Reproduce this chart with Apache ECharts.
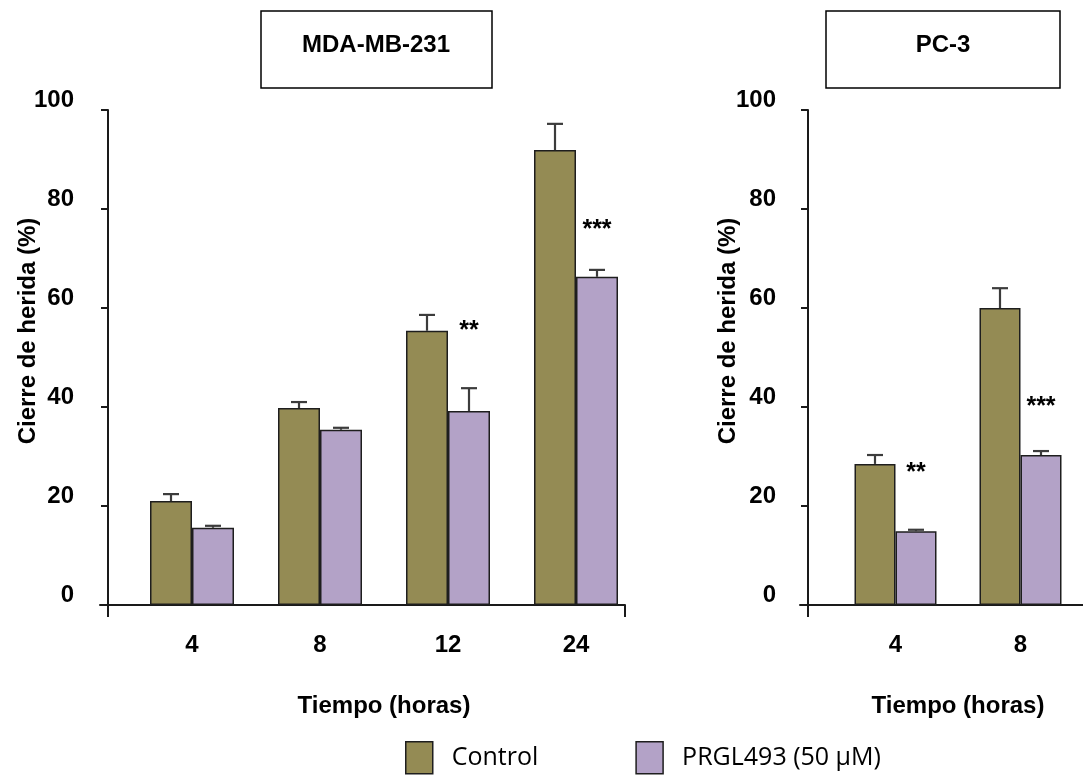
<!DOCTYPE html>
<html>
<head>
<meta charset="utf-8">
<script src="https://cdn.jsdelivr.net/npm/echarts@6/dist/echarts.min.js"></script>
<style>
html,body{margin:0;padding:0;background:#fff;}
#chart{width:1083px;height:776px;}
</style>
</head>
<body>
<div id="chart"></div>
<script>
// ---- Data ----
const seriesNames = ['Control', 'PRGL493 (50 µM)'];
const yTicks = [0, 20, 40, 60, 80, 100];

// MDA-MB-231
const categoriesA = ['4', '8', '12', '24'];
const controlA = [21.0, 39.8, 55.4, 91.9];
const controlErrA = [1.4, 1.2, 3.2, 5.3];
const prglA = [15.6, 35.4, 39.2, 66.3];
const prglErrA = [0.4, 0.4, 4.6, 1.4];
const sigA = ['', '', '**', '***'];
const sigYA = [null, null, 55.4, 75.8];

// PC-3
const categoriesB = ['4', '8'];
const controlB = [28.5, 60.0];
const controlErrB = [1.8, 4.0];
const prglB = [14.9, 30.3];
const prglErrB = [0.3, 0.8];
const sigB = ['**', '***'];
const sigYB = [26.6, 39.9];

// ---- Styles ----
const C_CONTROL = '#948B54';
const C_PRGL = '#B3A2C7';
const BORDER = '#1e1e1e';
const AXIS = '#1a1a1a';
const BAR_W = 42;
const FONT = 'Liberation Sans, Arial, sans-serif';
const FS = 24;

function errData(ctrl, ctrlErr, prgl, prglErr) {
  const d = [];
  for (let i = 0; i < ctrl.length; i++) {
    d.push([i, ctrl[i], ctrlErr[i], 0]);
    d.push([i, prgl[i], prglErr[i], 1]);
  }
  return d;
}
function sigData(sigY) {
  const d = [];
  sigY.forEach((y, i) => { if (y != null) d.push([i, y]); });
  return d;
}

function errRender(barW) {
  return function (params, api) {
    const cat = api.value(0), v = api.value(1), e = api.value(2), s = api.value(3);
    const base = api.coord([cat, v]);
    const top = api.coord([cat, v + e]);
    const x = base[0] + (s === 0 ? -1 : 1) * barW / 2;
    const st = { stroke: '#3c3c3c', lineWidth: 2.2 };
    return {
      type: 'group',
      children: [
        { type: 'line', shape: { x1: x, y1: base[1], x2: x, y2: top[1] }, style: st },
        { type: 'line', shape: { x1: x - 8, y1: top[1], x2: x + 8, y2: top[1] }, style: st }
      ]
    };
  };
}
function sigRender(barW, labels, sigY) {
  const idx = [];
  sigY.forEach((y, i) => { if (y != null) idx.push(i); });
  return function (params, api) {
    const cat = api.value(0), v = api.value(1);
    const p = api.coord([cat, v]);
    return {
      type: 'text',
      x: p[0] + barW / 2,
      y: p[1],
      style: {
        text: labels[idx[params.dataIndex]],
        align: 'center',
        verticalAlign: 'middle',
        font: 'bold 25px ' + FONT,
        fill: '#000'
      }
    };
  };
}

function yAxisCfg(gridIndex, offset, margin) {
  return {
    type: 'value', gridIndex: gridIndex, min: 0, max: 100, interval: 20, offset: offset,
    axisLine: { show: true, lineStyle: { color: AXIS, width: 2 } },
    axisTick: { show: true, inside: false, length: 7, lineStyle: { color: AXIS, width: 2 } },
    axisLabel: {
      margin: margin, color: '#000', fontFamily: FONT, fontWeight: 'bold', fontSize: FS,
      verticalAlign: 'bottom', lineHeight: 20
    },
    splitLine: { show: false }
  };
}
function xMainCfg(gridIndex, cats) {
  return {
    type: 'category', gridIndex: gridIndex, data: cats,
    axisLine: { show: false }, axisTick: { show: false },
    axisLabel: { margin: 28, color: '#000', fontFamily: FONT, fontWeight: 'bold', fontSize: FS },
    name: 'Tiempo (horas)', nameLocation: 'middle', nameGap: 89,
    nameTextStyle: { color: '#000', fontFamily: FONT, fontWeight: 'bold', fontSize: FS }
  };
}
function xDecoCfg(gridIndex, max, ticks) {
  return {
    type: 'value', gridIndex: gridIndex, min: 0, max: max,
    axisLine: { show: true, onZero: false, lineStyle: { color: AXIS, width: 2 } },
    axisTick: { show: true, inside: false, length: 12, customValues: ticks, lineStyle: { color: AXIS, width: 2 } },
    axisLabel: { show: false }, splitLine: { show: false }
  };
}

function barSeries(name, color, data, xi, yi, bw) {
  return {
    type: 'bar', name: name, xAxisIndex: xi, yAxisIndex: yi, data: data,
    barWidth: bw, barGap: '0%',
    itemStyle: { color: color, borderColor: BORDER, borderWidth: 1.5 },
    z: 2
  };
}

const chart = echarts.init(document.getElementById('chart'), null, { renderer: 'canvas' });
const option = {
  animation: false,
  backgroundColor: '#fff',
  grid: [
    { left: 128, top: 110, width: 512, height: 495 },
    { left: 100, top: 110, width: 525, height: 495 },
    { left: 833, top: 110, width: 252, height: 495 },
    { left: 800, top: 110, width: 300, height: 495 }
  ],
  xAxis: [
    xMainCfg(0, categoriesA),
    xDecoCfg(1, 525, [8, 525]),
    xMainCfg(2, categoriesB),
    xDecoCfg(3, 300, [8])
  ],
  yAxis: [
    yAxisCfg(0, 20, 34),
    { type: 'value', gridIndex: 1, min: 0, max: 100, show: false },
    yAxisCfg(2, 25, 32),
    { type: 'value', gridIndex: 3, min: 0, max: 100, show: false }
  ],
  legend: {
    left: 405, top: 741, padding: 0, icon: 'rect', itemWidth: 27, itemHeight: 32, itemGap: 97,
    data: seriesNames,
    itemStyle: { borderColor: BORDER, borderWidth: 1.5 },
    textStyle: { color: '#000', fontFamily: 'Open Sans, Lato, sans-serif', fontSize: 25, padding: [0, 0, 0, 14] }
  },
  graphic: [
    { type: 'rect', shape: { x: 261, y: 11, width: 231, height: 77 }, style: { fill: '#fff', stroke: '#000', lineWidth: 1.5 } },
    { type: 'text', x: 376, y: 45, style: { text: 'MDA-MB-231', align: 'center', verticalAlign: 'middle', font: 'bold ' + FS + 'px ' + FONT, fill: '#000' } },
    { type: 'rect', shape: { x: 826, y: 11, width: 234, height: 77 }, style: { fill: '#fff', stroke: '#000', lineWidth: 1.5 } },
    { type: 'text', x: 943, y: 45, style: { text: 'PC-3', align: 'center', verticalAlign: 'middle', font: 'bold ' + FS + 'px ' + FONT, fill: '#000' } },
    { type: 'text', x: 28, y: 331, rotation: Math.PI / 2, style: { text: 'Cierre de herida (%)', align: 'center', verticalAlign: 'middle', font: 'bold ' + FS + 'px ' + FONT, fill: '#000' } },
    { type: 'text', x: 728, y: 331, rotation: Math.PI / 2, style: { text: 'Cierre de herida (%)', align: 'center', verticalAlign: 'middle', font: 'bold ' + FS + 'px ' + FONT, fill: '#000' } }
  ],
  series: [
    barSeries(seriesNames[0], C_CONTROL, controlA, 0, 0, BAR_W),
    barSeries(seriesNames[1], C_PRGL, prglA, 0, 0, BAR_W),
    {
      type: 'custom', xAxisIndex: 0, yAxisIndex: 0, z: 3,
      renderItem: errRender(BAR_W), encode: { x: 0, y: 1 },
      data: errData(controlA, controlErrA, prglA, prglErrA)
    },
    {
      type: 'custom', xAxisIndex: 0, yAxisIndex: 0, z: 3,
      renderItem: sigRender(BAR_W, sigA, sigYA), encode: { x: 0, y: 1 },
      data: sigData(sigYA)
    },
    barSeries(seriesNames[0], C_CONTROL, controlB, 2, 2, 41),
    barSeries(seriesNames[1], C_PRGL, prglB, 2, 2, 41),
    {
      type: 'custom', xAxisIndex: 2, yAxisIndex: 2, z: 3,
      renderItem: errRender(41), encode: { x: 0, y: 1 },
      data: errData(controlB, controlErrB, prglB, prglErrB)
    },
    {
      type: 'custom', xAxisIndex: 2, yAxisIndex: 2, z: 3,
      renderItem: sigRender(41, sigB, sigYB), encode: { x: 0, y: 1 },
      data: sigData(sigYB)
    }
  ]
};
chart.setOption(option);
</script>
</body>
</html>
